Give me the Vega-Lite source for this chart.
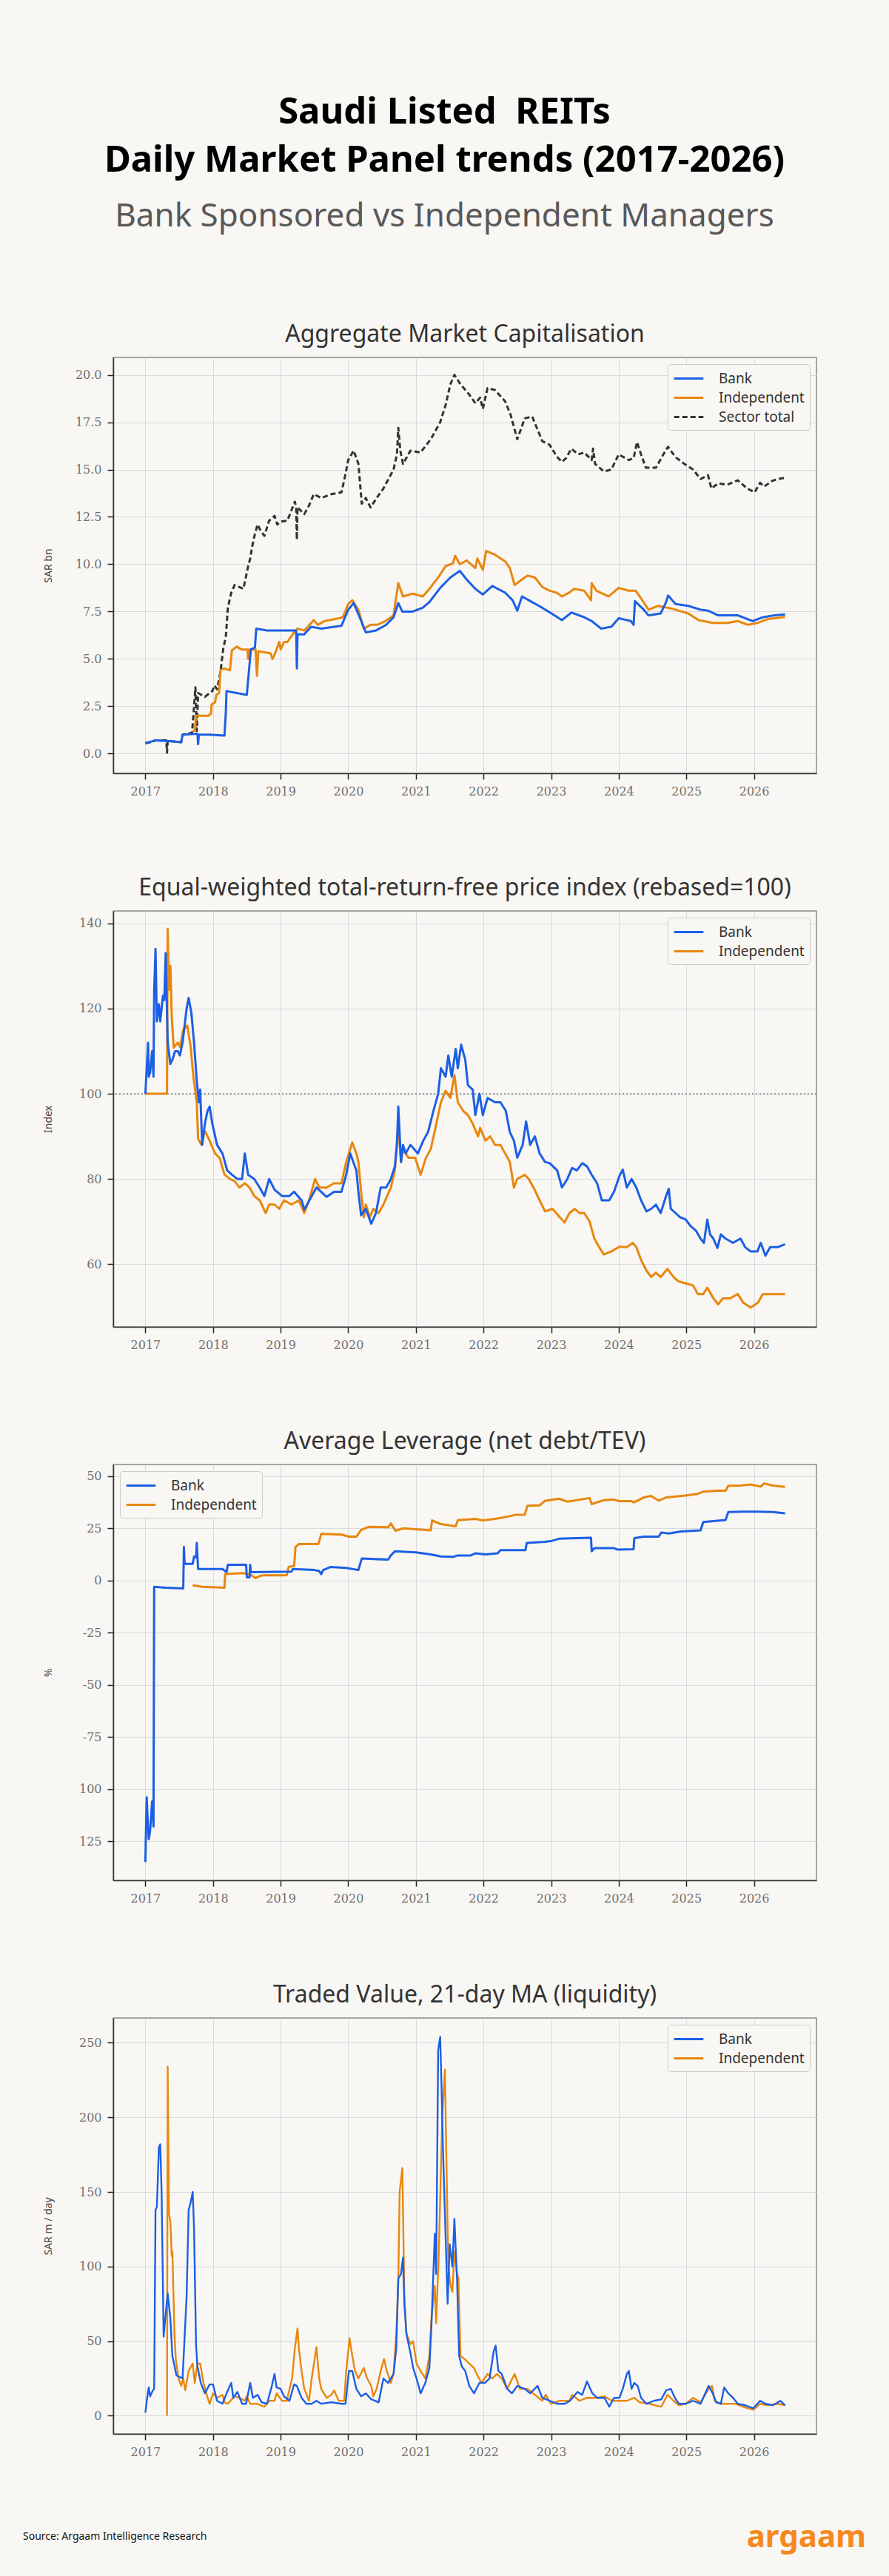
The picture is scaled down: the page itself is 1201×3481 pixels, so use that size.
{
  "$schema": "https://vega.github.io/schema/vega-lite/v6.json",
  "background": "#f9f7f3",
  "padding": {"left": 31, "top": 128, "right": 31, "bottom": 7},
  "spacing": 186,
  "bounds": "flush",
  "title": {
    "text": ["Saudi Listed \u00a0REITs", "Daily Market Panel trends (2017-2026)"],
    "subtitle": "Bank Sponsored vs Independent Managers",
    "font": "Noto Sans",
    "fontSize": 49,
    "fontWeight": "bold",
    "color": "#000000",
    "lineHeight": 65,
    "subtitleFont": "Noto Sans",
    "subtitleFontSize": 44,
    "subtitleColor": "#58585a",
    "subtitlePadding": 29,
    "anchor": "middle",
    "frame": "bounds",
    "offset": 120
  },
  "datasets": {
    "mcap": [
      {"t":2017.00,"s":"Sector total","v":0.55},{"t":2017.10,"s":"Sector total","v":0.62},{"t":2017.15,"s":"Sector total","v":0.70},{"t":2017.31,"s":"Sector total","v":0.70},{"t":2017.32,"s":"Sector total","v":0.05},{"t":2017.33,"s":"Sector total","v":0.70},{"t":2017.40,"s":"Sector total","v":0.65},{"t":2017.53,"s":"Sector total","v":0.60},{"t":2017.55,"s":"Sector total","v":1.00},{"t":2017.69,"s":"Sector total","v":1.10},{"t":2017.71,"s":"Sector total","v":2.00},{"t":2017.74,"s":"Sector total","v":3.50},{"t":2017.76,"s":"Sector total","v":1.20},{"t":2017.78,"s":"Sector total","v":3.20},{"t":2017.88,"s":"Sector total","v":3.00},{"t":2017.99,"s":"Sector total","v":3.30},{"t":2018.02,"s":"Sector total","v":3.60},{"t":2018.06,"s":"Sector total","v":3.40},{"t":2018.11,"s":"Sector total","v":4.30},{"t":2018.15,"s":"Sector total","v":5.50},{"t":2018.19,"s":"Sector total","v":6.20},{"t":2018.22,"s":"Sector total","v":7.70},{"t":2018.27,"s":"Sector total","v":8.50},{"t":2018.32,"s":"Sector total","v":8.90},{"t":2018.45,"s":"Sector total","v":8.70},{"t":2018.52,"s":"Sector total","v":9.90},{"t":2018.55,"s":"Sector total","v":10.30},{"t":2018.58,"s":"Sector total","v":10.95},{"t":2018.62,"s":"Sector total","v":11.60},{"t":2018.66,"s":"Sector total","v":12.10},{"t":2018.70,"s":"Sector total","v":11.80},{"t":2018.76,"s":"Sector total","v":11.50},{"t":2018.83,"s":"Sector total","v":12.30},{"t":2018.91,"s":"Sector total","v":12.55},{"t":2018.95,"s":"Sector total","v":12.10},{"t":2019.00,"s":"Sector total","v":12.25},{"t":2019.10,"s":"Sector total","v":12.30},{"t":2019.21,"s":"Sector total","v":13.30},{"t":2019.23,"s":"Sector total","v":13.00},{"t":2019.24,"s":"Sector total","v":11.30},{"t":2019.25,"s":"Sector total","v":13.00},{"t":2019.35,"s":"Sector total","v":12.65},{"t":2019.42,"s":"Sector total","v":13.10},{"t":2019.49,"s":"Sector total","v":13.70},{"t":2019.60,"s":"Sector total","v":13.50},{"t":2019.75,"s":"Sector total","v":13.70},{"t":2019.90,"s":"Sector total","v":13.80},{"t":2019.95,"s":"Sector total","v":14.60},{"t":2020.00,"s":"Sector total","v":15.50},{"t":2020.08,"s":"Sector total","v":16.00},{"t":2020.15,"s":"Sector total","v":15.30},{"t":2020.20,"s":"Sector total","v":13.20},{"t":2020.26,"s":"Sector total","v":13.50},{"t":2020.33,"s":"Sector total","v":13.00},{"t":2020.42,"s":"Sector total","v":13.50},{"t":2020.52,"s":"Sector total","v":14.00},{"t":2020.67,"s":"Sector total","v":15.00},{"t":2020.72,"s":"Sector total","v":15.80},{"t":2020.74,"s":"Sector total","v":17.20},{"t":2020.77,"s":"Sector total","v":16.00},{"t":2020.81,"s":"Sector total","v":15.30},{"t":2020.92,"s":"Sector total","v":16.00},{"t":2021.07,"s":"Sector total","v":15.90},{"t":2021.22,"s":"Sector total","v":16.60},{"t":2021.36,"s":"Sector total","v":17.50},{"t":2021.44,"s":"Sector total","v":18.40},{"t":2021.51,"s":"Sector total","v":19.50},{"t":2021.57,"s":"Sector total","v":20.00},{"t":2021.66,"s":"Sector total","v":19.50},{"t":2021.77,"s":"Sector total","v":19.05},{"t":2021.88,"s":"Sector total","v":18.50},{"t":2021.95,"s":"Sector total","v":18.80},{"t":2021.99,"s":"Sector total","v":18.20},{"t":2022.06,"s":"Sector total","v":19.30},{"t":2022.17,"s":"Sector total","v":19.20},{"t":2022.32,"s":"Sector total","v":18.60},{"t":2022.40,"s":"Sector total","v":17.90},{"t":2022.50,"s":"Sector total","v":16.60},{"t":2022.61,"s":"Sector total","v":17.70},{"t":2022.72,"s":"Sector total","v":17.80},{"t":2022.87,"s":"Sector total","v":16.50},{"t":2022.98,"s":"Sector total","v":16.30},{"t":2023.08,"s":"Sector total","v":15.70},{"t":2023.16,"s":"Sector total","v":15.40},{"t":2023.22,"s":"Sector total","v":15.60},{"t":2023.30,"s":"Sector total","v":16.10},{"t":2023.40,"s":"Sector total","v":15.80},{"t":2023.49,"s":"Sector total","v":15.90},{"t":2023.60,"s":"Sector total","v":15.50},{"t":2023.62,"s":"Sector total","v":16.10},{"t":2023.65,"s":"Sector total","v":15.30},{"t":2023.78,"s":"Sector total","v":14.90},{"t":2023.89,"s":"Sector total","v":15.00},{"t":2024.00,"s":"Sector total","v":15.80},{"t":2024.15,"s":"Sector total","v":15.50},{"t":2024.22,"s":"Sector total","v":15.60},{"t":2024.27,"s":"Sector total","v":16.45},{"t":2024.33,"s":"Sector total","v":15.80},{"t":2024.40,"s":"Sector total","v":15.10},{"t":2024.55,"s":"Sector total","v":15.10},{"t":2024.70,"s":"Sector total","v":16.05},{"t":2024.73,"s":"Sector total","v":16.20},{"t":2024.84,"s":"Sector total","v":15.65},{"t":2024.99,"s":"Sector total","v":15.25},{"t":2025.10,"s":"Sector total","v":15.00},{"t":2025.21,"s":"Sector total","v":14.50},{"t":2025.32,"s":"Sector total","v":14.70},{"t":2025.37,"s":"Sector total","v":14.00},{"t":2025.47,"s":"Sector total","v":14.27},{"t":2025.61,"s":"Sector total","v":14.20},{"t":2025.76,"s":"Sector total","v":14.43},{"t":2025.90,"s":"Sector total","v":14.00},{"t":2026.01,"s":"Sector total","v":13.80},{"t":2026.09,"s":"Sector total","v":14.30},{"t":2026.15,"s":"Sector total","v":14.10},{"t":2026.27,"s":"Sector total","v":14.40},{"t":2026.35,"s":"Sector total","v":14.50},{"t":2026.46,"s":"Sector total","v":14.56},
      {"t":2017.70,"s":"Independent","v":1.20},{"t":2017.73,"s":"Independent","v":1.20},{"t":2017.75,"s":"Independent","v":2.00},{"t":2017.93,"s":"Independent","v":2.00},{"t":2017.97,"s":"Independent","v":2.10},{"t":2017.98,"s":"Independent","v":2.60},{"t":2018.03,"s":"Independent","v":2.70},{"t":2018.05,"s":"Independent","v":3.10},{"t":2018.09,"s":"Independent","v":3.20},{"t":2018.11,"s":"Independent","v":4.40},{"t":2018.16,"s":"Independent","v":4.50},{"t":2018.25,"s":"Independent","v":4.40},{"t":2018.28,"s":"Independent","v":5.45},{"t":2018.35,"s":"Independent","v":5.65},{"t":2018.42,"s":"Independent","v":5.50},{"t":2018.51,"s":"Independent","v":5.50},{"t":2018.52,"s":"Independent","v":5.00},{"t":2018.53,"s":"Independent","v":5.50},{"t":2018.63,"s":"Independent","v":5.50},{"t":2018.65,"s":"Independent","v":4.10},{"t":2018.67,"s":"Independent","v":5.40},{"t":2018.85,"s":"Independent","v":5.30},{"t":2018.88,"s":"Independent","v":5.00},{"t":2018.92,"s":"Independent","v":5.30},{"t":2018.98,"s":"Independent","v":5.90},{"t":2019.00,"s":"Independent","v":5.50},{"t":2019.05,"s":"Independent","v":5.90},{"t":2019.10,"s":"Independent","v":5.90},{"t":2019.20,"s":"Independent","v":6.40},{"t":2019.25,"s":"Independent","v":6.60},{"t":2019.35,"s":"Independent","v":6.50},{"t":2019.49,"s":"Independent","v":7.05},{"t":2019.55,"s":"Independent","v":6.80},{"t":2019.65,"s":"Independent","v":7.00},{"t":2019.80,"s":"Independent","v":7.10},{"t":2019.92,"s":"Independent","v":7.20},{"t":2020.00,"s":"Independent","v":7.90},{"t":2020.06,"s":"Independent","v":8.10},{"t":2020.15,"s":"Independent","v":7.60},{"t":2020.23,"s":"Independent","v":6.60},{"t":2020.33,"s":"Independent","v":6.80},{"t":2020.43,"s":"Independent","v":6.80},{"t":2020.55,"s":"Independent","v":7.00},{"t":2020.67,"s":"Independent","v":7.30},{"t":2020.74,"s":"Independent","v":9.00},{"t":2020.81,"s":"Independent","v":8.30},{"t":2020.95,"s":"Independent","v":8.45},{"t":2021.10,"s":"Independent","v":8.30},{"t":2021.20,"s":"Independent","v":8.70},{"t":2021.33,"s":"Independent","v":9.30},{"t":2021.44,"s":"Independent","v":9.90},{"t":2021.55,"s":"Independent","v":10.05},{"t":2021.58,"s":"Independent","v":10.45},{"t":2021.65,"s":"Independent","v":10.00},{"t":2021.75,"s":"Independent","v":10.20},{"t":2021.88,"s":"Independent","v":9.80},{"t":2021.91,"s":"Independent","v":10.30},{"t":2021.99,"s":"Independent","v":9.70},{"t":2022.04,"s":"Independent","v":10.70},{"t":2022.17,"s":"Independent","v":10.50},{"t":2022.32,"s":"Independent","v":10.15},{"t":2022.39,"s":"Independent","v":9.80},{"t":2022.46,"s":"Independent","v":8.90},{"t":2022.57,"s":"Independent","v":9.20},{"t":2022.65,"s":"Independent","v":9.40},{"t":2022.76,"s":"Independent","v":9.30},{"t":2022.87,"s":"Independent","v":8.80},{"t":2022.98,"s":"Independent","v":8.60},{"t":2023.08,"s":"Independent","v":8.50},{"t":2023.16,"s":"Independent","v":8.30},{"t":2023.27,"s":"Independent","v":8.50},{"t":2023.34,"s":"Independent","v":8.70},{"t":2023.49,"s":"Independent","v":8.60},{"t":2023.59,"s":"Independent","v":8.10},{"t":2023.60,"s":"Independent","v":9.00},{"t":2023.67,"s":"Independent","v":8.60},{"t":2023.85,"s":"Independent","v":8.30},{"t":2024.00,"s":"Independent","v":8.75},{"t":2024.15,"s":"Independent","v":8.60},{"t":2024.25,"s":"Independent","v":8.60},{"t":2024.33,"s":"Independent","v":8.20},{"t":2024.44,"s":"Independent","v":7.60},{"t":2024.58,"s":"Independent","v":7.80},{"t":2024.73,"s":"Independent","v":7.70},{"t":2024.84,"s":"Independent","v":7.60},{"t":2025.03,"s":"Independent","v":7.40},{"t":2025.18,"s":"Independent","v":7.05},{"t":2025.39,"s":"Independent","v":6.90},{"t":2025.61,"s":"Independent","v":6.90},{"t":2025.76,"s":"Independent","v":7.00},{"t":2025.91,"s":"Independent","v":6.80},{"t":2026.05,"s":"Independent","v":6.90},{"t":2026.20,"s":"Independent","v":7.10},{"t":2026.46,"s":"Independent","v":7.22},
      {"t":2017.00,"s":"Bank","v":0.55},{"t":2017.15,"s":"Bank","v":0.70},{"t":2017.40,"s":"Bank","v":0.65},{"t":2017.53,"s":"Bank","v":0.60},{"t":2017.55,"s":"Bank","v":1.00},{"t":2017.77,"s":"Bank","v":1.05},{"t":2017.78,"s":"Bank","v":0.50},{"t":2017.79,"s":"Bank","v":1.00},{"t":2017.95,"s":"Bank","v":1.00},{"t":2018.17,"s":"Bank","v":0.95},{"t":2018.19,"s":"Bank","v":2.20},{"t":2018.20,"s":"Bank","v":3.30},{"t":2018.35,"s":"Bank","v":3.20},{"t":2018.50,"s":"Bank","v":3.10},{"t":2018.53,"s":"Bank","v":4.30},{"t":2018.56,"s":"Bank","v":5.50},{"t":2018.62,"s":"Bank","v":5.60},{"t":2018.64,"s":"Bank","v":6.60},{"t":2018.80,"s":"Bank","v":6.50},{"t":2019.00,"s":"Bank","v":6.50},{"t":2019.23,"s":"Bank","v":6.50},{"t":2019.24,"s":"Bank","v":4.50},{"t":2019.25,"s":"Bank","v":6.30},{"t":2019.35,"s":"Bank","v":6.30},{"t":2019.45,"s":"Bank","v":6.70},{"t":2019.60,"s":"Bank","v":6.60},{"t":2019.90,"s":"Bank","v":6.75},{"t":2020.00,"s":"Bank","v":7.60},{"t":2020.08,"s":"Bank","v":7.95},{"t":2020.17,"s":"Bank","v":7.20},{"t":2020.26,"s":"Bank","v":6.40},{"t":2020.41,"s":"Bank","v":6.50},{"t":2020.56,"s":"Bank","v":6.80},{"t":2020.67,"s":"Bank","v":7.20},{"t":2020.74,"s":"Bank","v":7.95},{"t":2020.80,"s":"Bank","v":7.50},{"t":2020.95,"s":"Bank","v":7.50},{"t":2021.10,"s":"Bank","v":7.70},{"t":2021.20,"s":"Bank","v":8.00},{"t":2021.36,"s":"Bank","v":8.75},{"t":2021.51,"s":"Bank","v":9.30},{"t":2021.65,"s":"Bank","v":9.65},{"t":2021.75,"s":"Bank","v":9.20},{"t":2021.88,"s":"Bank","v":8.70},{"t":2021.99,"s":"Bank","v":8.40},{"t":2022.13,"s":"Bank","v":8.85},{"t":2022.32,"s":"Bank","v":8.50},{"t":2022.43,"s":"Bank","v":8.10},{"t":2022.50,"s":"Bank","v":7.55},{"t":2022.57,"s":"Bank","v":8.30},{"t":2022.72,"s":"Bank","v":8.00},{"t":2022.87,"s":"Bank","v":7.70},{"t":2023.05,"s":"Bank","v":7.30},{"t":2023.16,"s":"Bank","v":7.05},{"t":2023.30,"s":"Bank","v":7.45},{"t":2023.49,"s":"Bank","v":7.20},{"t":2023.60,"s":"Bank","v":7.00},{"t":2023.74,"s":"Bank","v":6.60},{"t":2023.89,"s":"Bank","v":6.70},{"t":2024.00,"s":"Bank","v":7.15},{"t":2024.18,"s":"Bank","v":7.00},{"t":2024.22,"s":"Bank","v":6.80},{"t":2024.24,"s":"Bank","v":8.05},{"t":2024.37,"s":"Bank","v":7.60},{"t":2024.44,"s":"Bank","v":7.30},{"t":2024.62,"s":"Bank","v":7.40},{"t":2024.70,"s":"Bank","v":8.00},{"t":2024.73,"s":"Bank","v":8.35},{"t":2024.84,"s":"Bank","v":7.90},{"t":2025.03,"s":"Bank","v":7.80},{"t":2025.21,"s":"Bank","v":7.60},{"t":2025.32,"s":"Bank","v":7.55},{"t":2025.47,"s":"Bank","v":7.30},{"t":2025.61,"s":"Bank","v":7.30},{"t":2025.76,"s":"Bank","v":7.30},{"t":2025.98,"s":"Bank","v":7.00},{"t":2026.13,"s":"Bank","v":7.20},{"t":2026.30,"s":"Bank","v":7.30},{"t":2026.46,"s":"Bank","v":7.35}
    ],
    "idx": [
      {"t":2017.00,"s":"Independent","v":100},{"t":2017.32,"s":"Independent","v":100},{"t":2017.33,"s":"Independent","v":138.7},{"t":2017.35,"s":"Independent","v":124.4},{"t":2017.37,"s":"Independent","v":130},{"t":2017.39,"s":"Independent","v":118},{"t":2017.42,"s":"Independent","v":110.8},{"t":2017.48,"s":"Independent","v":112},{"t":2017.51,"s":"Independent","v":111},{"t":2017.56,"s":"Independent","v":115},{"t":2017.62,"s":"Independent","v":116},{"t":2017.67,"s":"Independent","v":111},{"t":2017.71,"s":"Independent","v":104},{"t":2017.76,"s":"Independent","v":98},{"t":2017.78,"s":"Independent","v":89.4},{"t":2017.83,"s":"Independent","v":88},{"t":2017.88,"s":"Independent","v":91.3},{"t":2017.95,"s":"Independent","v":89},{"t":2018.03,"s":"Independent","v":86},{"t":2018.10,"s":"Independent","v":84.9},{"t":2018.17,"s":"Independent","v":81},{"t":2018.25,"s":"Independent","v":80},{"t":2018.32,"s":"Independent","v":79.5},{"t":2018.39,"s":"Independent","v":78},{"t":2018.47,"s":"Independent","v":79},{"t":2018.54,"s":"Independent","v":78},{"t":2018.61,"s":"Independent","v":76},{"t":2018.69,"s":"Independent","v":75},{"t":2018.78,"s":"Independent","v":72},{"t":2018.83,"s":"Independent","v":74},{"t":2018.91,"s":"Independent","v":74},{"t":2018.98,"s":"Independent","v":73},{"t":2019.05,"s":"Independent","v":75},{"t":2019.16,"s":"Independent","v":74},{"t":2019.27,"s":"Independent","v":75},{"t":2019.35,"s":"Independent","v":72},{"t":2019.42,"s":"Independent","v":75},{"t":2019.51,"s":"Independent","v":80},{"t":2019.57,"s":"Independent","v":78},{"t":2019.68,"s":"Independent","v":78},{"t":2019.79,"s":"Independent","v":79},{"t":2019.90,"s":"Independent","v":79},{"t":2019.97,"s":"Independent","v":84},{"t":2020.03,"s":"Independent","v":87},{"t":2020.06,"s":"Independent","v":88.6},{"t":2020.12,"s":"Independent","v":86},{"t":2020.15,"s":"Independent","v":84},{"t":2020.19,"s":"Independent","v":77},{"t":2020.23,"s":"Independent","v":71},{"t":2020.26,"s":"Independent","v":74},{"t":2020.32,"s":"Independent","v":71},{"t":2020.37,"s":"Independent","v":73},{"t":2020.45,"s":"Independent","v":72},{"t":2020.52,"s":"Independent","v":74},{"t":2020.63,"s":"Independent","v":78},{"t":2020.69,"s":"Independent","v":82},{"t":2020.74,"s":"Independent","v":93},{"t":2020.78,"s":"Independent","v":84},{"t":2020.81,"s":"Independent","v":87},{"t":2020.89,"s":"Independent","v":85},{"t":2020.99,"s":"Independent","v":85},{"t":2021.07,"s":"Independent","v":81},{"t":2021.15,"s":"Independent","v":85},{"t":2021.22,"s":"Independent","v":87},{"t":2021.29,"s":"Independent","v":92},{"t":2021.37,"s":"Independent","v":98},{"t":2021.44,"s":"Independent","v":100.7},{"t":2021.51,"s":"Independent","v":99},{"t":2021.57,"s":"Independent","v":104.4},{"t":2021.62,"s":"Independent","v":98},{"t":2021.70,"s":"Independent","v":96},{"t":2021.77,"s":"Independent","v":95},{"t":2021.84,"s":"Independent","v":93},{"t":2021.92,"s":"Independent","v":90},{"t":2021.95,"s":"Independent","v":92},{"t":2022.03,"s":"Independent","v":89},{"t":2022.10,"s":"Independent","v":90},{"t":2022.17,"s":"Independent","v":88},{"t":2022.25,"s":"Independent","v":88},{"t":2022.32,"s":"Independent","v":86},{"t":2022.39,"s":"Independent","v":84},{"t":2022.45,"s":"Independent","v":78},{"t":2022.50,"s":"Independent","v":80},{"t":2022.61,"s":"Independent","v":81},{"t":2022.67,"s":"Independent","v":80},{"t":2022.74,"s":"Independent","v":78},{"t":2022.83,"s":"Independent","v":75},{"t":2022.91,"s":"Independent","v":72.4},{"t":2023.02,"s":"Independent","v":73},{"t":2023.13,"s":"Independent","v":71},{"t":2023.20,"s":"Independent","v":69.8},{"t":2023.27,"s":"Independent","v":72},{"t":2023.35,"s":"Independent","v":73},{"t":2023.42,"s":"Independent","v":72},{"t":2023.49,"s":"Independent","v":72},{"t":2023.57,"s":"Independent","v":70},{"t":2023.64,"s":"Independent","v":66},{"t":2023.71,"s":"Independent","v":64},{"t":2023.78,"s":"Independent","v":62.3},{"t":2023.89,"s":"Independent","v":63},{"t":2024.01,"s":"Independent","v":64.1},{"t":2024.12,"s":"Independent","v":64},{"t":2024.21,"s":"Independent","v":65},{"t":2024.26,"s":"Independent","v":64},{"t":2024.33,"s":"Independent","v":61},{"t":2024.41,"s":"Independent","v":58.5},{"t":2024.48,"s":"Independent","v":57},{"t":2024.55,"s":"Independent","v":58},{"t":2024.62,"s":"Independent","v":57},{"t":2024.72,"s":"Independent","v":58.9},{"t":2024.81,"s":"Independent","v":57},{"t":2024.88,"s":"Independent","v":56},{"t":2024.99,"s":"Independent","v":55.5},{"t":2025.10,"s":"Independent","v":55},{"t":2025.17,"s":"Independent","v":53},{"t":2025.25,"s":"Independent","v":53},{"t":2025.31,"s":"Independent","v":54.5},{"t":2025.40,"s":"Independent","v":52},{"t":2025.47,"s":"Independent","v":50.6},{"t":2025.54,"s":"Independent","v":52},{"t":2025.65,"s":"Independent","v":52},{"t":2025.76,"s":"Independent","v":53},{"t":2025.84,"s":"Independent","v":51},{"t":2025.95,"s":"Independent","v":49.8},{"t":2026.06,"s":"Independent","v":51},{"t":2026.13,"s":"Independent","v":53},{"t":2026.28,"s":"Independent","v":53},{"t":2026.46,"s":"Independent","v":53},
      {"t":2017.00,"s":"Bank","v":100},{"t":2017.02,"s":"Bank","v":106},{"t":2017.04,"s":"Bank","v":112},{"t":2017.05,"s":"Bank","v":104},{"t":2017.07,"s":"Bank","v":105},{"t":2017.10,"s":"Bank","v":110},{"t":2017.12,"s":"Bank","v":104},{"t":2017.13,"s":"Bank","v":124},{"t":2017.15,"s":"Bank","v":134},{"t":2017.17,"s":"Bank","v":117},{"t":2017.20,"s":"Bank","v":121},{"t":2017.22,"s":"Bank","v":117},{"t":2017.26,"s":"Bank","v":123},{"t":2017.28,"s":"Bank","v":122},{"t":2017.30,"s":"Bank","v":133},{"t":2017.33,"s":"Bank","v":112},{"t":2017.37,"s":"Bank","v":107},{"t":2017.40,"s":"Bank","v":108},{"t":2017.44,"s":"Bank","v":110},{"t":2017.48,"s":"Bank","v":110},{"t":2017.51,"s":"Bank","v":109},{"t":2017.55,"s":"Bank","v":112},{"t":2017.61,"s":"Bank","v":120},{"t":2017.64,"s":"Bank","v":122.5},{"t":2017.68,"s":"Bank","v":119},{"t":2017.72,"s":"Bank","v":112},{"t":2017.76,"s":"Bank","v":103},{"t":2017.79,"s":"Bank","v":98},{"t":2017.81,"s":"Bank","v":101},{"t":2017.84,"s":"Bank","v":88},{"t":2017.88,"s":"Bank","v":93},{"t":2017.92,"s":"Bank","v":96},{"t":2017.95,"s":"Bank","v":97},{"t":2017.99,"s":"Bank","v":93},{"t":2018.06,"s":"Bank","v":88},{"t":2018.14,"s":"Bank","v":86},{"t":2018.21,"s":"Bank","v":82},{"t":2018.28,"s":"Bank","v":81},{"t":2018.36,"s":"Bank","v":80},{"t":2018.43,"s":"Bank","v":80},{"t":2018.47,"s":"Bank","v":86},{"t":2018.52,"s":"Bank","v":81},{"t":2018.61,"s":"Bank","v":80},{"t":2018.69,"s":"Bank","v":78},{"t":2018.76,"s":"Bank","v":76},{"t":2018.83,"s":"Bank","v":80},{"t":2018.91,"s":"Bank","v":77.5},{"t":2019.02,"s":"Bank","v":76},{"t":2019.13,"s":"Bank","v":76},{"t":2019.20,"s":"Bank","v":77},{"t":2019.31,"s":"Bank","v":75},{"t":2019.35,"s":"Bank","v":72.8},{"t":2019.46,"s":"Bank","v":76},{"t":2019.53,"s":"Bank","v":78},{"t":2019.68,"s":"Bank","v":75.8},{"t":2019.79,"s":"Bank","v":77},{"t":2019.90,"s":"Bank","v":77},{"t":2019.97,"s":"Bank","v":81},{"t":2020.03,"s":"Bank","v":86},{"t":2020.12,"s":"Bank","v":82},{"t":2020.15,"s":"Bank","v":77},{"t":2020.19,"s":"Bank","v":71.5},{"t":2020.26,"s":"Bank","v":73},{"t":2020.34,"s":"Bank","v":69.5},{"t":2020.41,"s":"Bank","v":72},{"t":2020.48,"s":"Bank","v":78},{"t":2020.56,"s":"Bank","v":78},{"t":2020.63,"s":"Bank","v":80},{"t":2020.69,"s":"Bank","v":83},{"t":2020.72,"s":"Bank","v":88},{"t":2020.74,"s":"Bank","v":97},{"t":2020.78,"s":"Bank","v":84},{"t":2020.81,"s":"Bank","v":88},{"t":2020.85,"s":"Bank","v":86},{"t":2020.92,"s":"Bank","v":88},{"t":2021.03,"s":"Bank","v":86},{"t":2021.11,"s":"Bank","v":89},{"t":2021.18,"s":"Bank","v":91},{"t":2021.26,"s":"Bank","v":96},{"t":2021.33,"s":"Bank","v":100},{"t":2021.37,"s":"Bank","v":106},{"t":2021.44,"s":"Bank","v":104},{"t":2021.48,"s":"Bank","v":109},{"t":2021.53,"s":"Bank","v":104},{"t":2021.59,"s":"Bank","v":110.5},{"t":2021.62,"s":"Bank","v":106},{"t":2021.67,"s":"Bank","v":111.5},{"t":2021.73,"s":"Bank","v":108},{"t":2021.77,"s":"Bank","v":102},{"t":2021.84,"s":"Bank","v":101},{"t":2021.88,"s":"Bank","v":95},{"t":2021.94,"s":"Bank","v":100},{"t":2021.99,"s":"Bank","v":95},{"t":2022.06,"s":"Bank","v":99},{"t":2022.17,"s":"Bank","v":98},{"t":2022.25,"s":"Bank","v":98},{"t":2022.33,"s":"Bank","v":96},{"t":2022.39,"s":"Bank","v":91},{"t":2022.45,"s":"Bank","v":89},{"t":2022.50,"s":"Bank","v":85},{"t":2022.58,"s":"Bank","v":88},{"t":2022.63,"s":"Bank","v":93.5},{"t":2022.69,"s":"Bank","v":88},{"t":2022.76,"s":"Bank","v":90},{"t":2022.83,"s":"Bank","v":86},{"t":2022.91,"s":"Bank","v":84},{"t":2022.98,"s":"Bank","v":83.7},{"t":2023.09,"s":"Bank","v":82},{"t":2023.16,"s":"Bank","v":78},{"t":2023.24,"s":"Bank","v":80},{"t":2023.31,"s":"Bank","v":82.6},{"t":2023.38,"s":"Bank","v":82},{"t":2023.46,"s":"Bank","v":83.7},{"t":2023.53,"s":"Bank","v":83},{"t":2023.60,"s":"Bank","v":81},{"t":2023.68,"s":"Bank","v":79},{"t":2023.75,"s":"Bank","v":75},{"t":2023.86,"s":"Bank","v":75},{"t":2023.93,"s":"Bank","v":77},{"t":2024.01,"s":"Bank","v":80.7},{"t":2024.06,"s":"Bank","v":82.2},{"t":2024.12,"s":"Bank","v":78},{"t":2024.19,"s":"Bank","v":80},{"t":2024.26,"s":"Bank","v":78},{"t":2024.33,"s":"Bank","v":75},{"t":2024.41,"s":"Bank","v":72.4},{"t":2024.48,"s":"Bank","v":73},{"t":2024.55,"s":"Bank","v":74},{"t":2024.62,"s":"Bank","v":72},{"t":2024.70,"s":"Bank","v":76},{"t":2024.74,"s":"Bank","v":77.7},{"t":2024.77,"s":"Bank","v":73},{"t":2024.84,"s":"Bank","v":72},{"t":2024.91,"s":"Bank","v":71},{"t":2024.99,"s":"Bank","v":70.5},{"t":2025.06,"s":"Bank","v":69},{"t":2025.14,"s":"Bank","v":67.9},{"t":2025.21,"s":"Bank","v":66},{"t":2025.26,"s":"Bank","v":65},{"t":2025.31,"s":"Bank","v":70.5},{"t":2025.35,"s":"Bank","v":67},{"t":2025.40,"s":"Bank","v":66},{"t":2025.46,"s":"Bank","v":63.8},{"t":2025.51,"s":"Bank","v":67},{"t":2025.58,"s":"Bank","v":66},{"t":2025.69,"s":"Bank","v":65},{"t":2025.80,"s":"Bank","v":66},{"t":2025.87,"s":"Bank","v":64},{"t":2025.95,"s":"Bank","v":63},{"t":2026.05,"s":"Bank","v":63},{"t":2026.10,"s":"Bank","v":65},{"t":2026.17,"s":"Bank","v":62},{"t":2026.24,"s":"Bank","v":64},{"t":2026.35,"s":"Bank","v":64},{"t":2026.46,"s":"Bank","v":64.7}
    ],
    "lev": [
      {"t":2017.70,"s":"Independent","v":-2.3},{"t":2017.84,"s":"Independent","v":-3},{"t":2018.17,"s":"Independent","v":-3.5},{"t":2018.18,"s":"Independent","v":3.1},{"t":2018.46,"s":"Independent","v":3.5},{"t":2018.57,"s":"Independent","v":2.5},{"t":2018.63,"s":"Independent","v":1.1},{"t":2018.68,"s":"Independent","v":2},{"t":2018.75,"s":"Independent","v":2.5},{"t":2019.09,"s":"Independent","v":2.5},{"t":2019.12,"s":"Independent","v":6.5},{"t":2019.20,"s":"Independent","v":7},{"t":2019.22,"s":"Independent","v":16},{"t":2019.27,"s":"Independent","v":17.5},{"t":2019.56,"s":"Independent","v":17.5},{"t":2019.60,"s":"Independent","v":22.3},{"t":2019.90,"s":"Independent","v":22},{"t":2020.01,"s":"Independent","v":21},{"t":2020.12,"s":"Independent","v":21},{"t":2020.19,"s":"Independent","v":24.2},{"t":2020.30,"s":"Independent","v":25.7},{"t":2020.59,"s":"Independent","v":25.5},{"t":2020.63,"s":"Independent","v":27.4},{"t":2020.70,"s":"Independent","v":23.8},{"t":2020.81,"s":"Independent","v":25},{"t":2021.22,"s":"Independent","v":24},{"t":2021.24,"s":"Independent","v":28.8},{"t":2021.37,"s":"Independent","v":27},{"t":2021.59,"s":"Independent","v":26},{"t":2021.62,"s":"Independent","v":28.9},{"t":2021.88,"s":"Independent","v":29.5},{"t":2021.99,"s":"Independent","v":28.8},{"t":2022.17,"s":"Independent","v":29.5},{"t":2022.39,"s":"Independent","v":30.8},{"t":2022.47,"s":"Independent","v":31.5},{"t":2022.61,"s":"Independent","v":31.5},{"t":2022.65,"s":"Independent","v":35.8},{"t":2022.83,"s":"Independent","v":36},{"t":2022.91,"s":"Independent","v":38.2},{"t":2023.12,"s":"Independent","v":39.2},{"t":2023.24,"s":"Independent","v":37.8},{"t":2023.57,"s":"Independent","v":39.5},{"t":2023.60,"s":"Independent","v":36.6},{"t":2023.78,"s":"Independent","v":38.5},{"t":2023.93,"s":"Independent","v":38.8},{"t":2024.01,"s":"Independent","v":38},{"t":2024.19,"s":"Independent","v":38},{"t":2024.22,"s":"Independent","v":37.4},{"t":2024.37,"s":"Independent","v":39.8},{"t":2024.48,"s":"Independent","v":40.5},{"t":2024.59,"s":"Independent","v":38.3},{"t":2024.70,"s":"Independent","v":39.8},{"t":2024.96,"s":"Independent","v":40.6},{"t":2025.17,"s":"Independent","v":41.5},{"t":2025.25,"s":"Independent","v":42.6},{"t":2025.47,"s":"Independent","v":43.1},{"t":2025.58,"s":"Independent","v":43},{"t":2025.62,"s":"Independent","v":45.4},{"t":2025.80,"s":"Independent","v":45.5},{"t":2025.95,"s":"Independent","v":46},{"t":2026.10,"s":"Independent","v":45},{"t":2026.15,"s":"Independent","v":46.5},{"t":2026.28,"s":"Independent","v":45.5},{"t":2026.46,"s":"Independent","v":44.9},
      {"t":2017.00,"s":"Bank","v":-135},{"t":2017.01,"s":"Bank","v":-118},{"t":2017.02,"s":"Bank","v":-104},{"t":2017.035,"s":"Bank","v":-116},{"t":2017.05,"s":"Bank","v":-124},{"t":2017.07,"s":"Bank","v":-120},{"t":2017.10,"s":"Bank","v":-106},{"t":2017.12,"s":"Bank","v":-118},{"t":2017.13,"s":"Bank","v":-3},{"t":2017.30,"s":"Bank","v":-3.5},{"t":2017.56,"s":"Bank","v":-3.8},{"t":2017.57,"s":"Bank","v":16},{"t":2017.58,"s":"Bank","v":8},{"t":2017.70,"s":"Bank","v":8},{"t":2017.72,"s":"Bank","v":11.5},{"t":2017.75,"s":"Bank","v":11},{"t":2017.76,"s":"Bank","v":18},{"t":2017.78,"s":"Bank","v":5.5},{"t":2018.14,"s":"Bank","v":5.5},{"t":2018.20,"s":"Bank","v":4},{"t":2018.22,"s":"Bank","v":7.5},{"t":2018.49,"s":"Bank","v":7.5},{"t":2018.50,"s":"Bank","v":1.5},{"t":2018.54,"s":"Bank","v":1.5},{"t":2018.55,"s":"Bank","v":7.5},{"t":2018.56,"s":"Bank","v":4},{"t":2019.16,"s":"Bank","v":4.2},{"t":2019.18,"s":"Bank","v":5.5},{"t":2019.50,"s":"Bank","v":5},{"t":2019.57,"s":"Bank","v":4.5},{"t":2019.60,"s":"Bank","v":3},{"t":2019.63,"s":"Bank","v":5},{"t":2019.74,"s":"Bank","v":6.5},{"t":2019.97,"s":"Bank","v":6},{"t":2020.15,"s":"Bank","v":5},{"t":2020.20,"s":"Bank","v":10.5},{"t":2020.59,"s":"Bank","v":10},{"t":2020.63,"s":"Bank","v":12},{"t":2020.69,"s":"Bank","v":14},{"t":2021.00,"s":"Bank","v":13.5},{"t":2021.22,"s":"Bank","v":12.5},{"t":2021.37,"s":"Bank","v":11.5},{"t":2021.55,"s":"Bank","v":11.3},{"t":2021.62,"s":"Bank","v":12},{"t":2021.81,"s":"Bank","v":12},{"t":2021.88,"s":"Bank","v":13},{"t":2022.03,"s":"Bank","v":12.5},{"t":2022.21,"s":"Bank","v":13},{"t":2022.25,"s":"Bank","v":14.5},{"t":2022.62,"s":"Bank","v":14.5},{"t":2022.64,"s":"Bank","v":18},{"t":2022.91,"s":"Bank","v":18.5},{"t":2023.01,"s":"Bank","v":19},{"t":2023.12,"s":"Bank","v":20},{"t":2023.59,"s":"Bank","v":20.5},{"t":2023.60,"s":"Bank","v":14},{"t":2023.64,"s":"Bank","v":15.5},{"t":2023.93,"s":"Bank","v":15.5},{"t":2023.98,"s":"Bank","v":14.8},{"t":2024.22,"s":"Bank","v":15},{"t":2024.23,"s":"Bank","v":20.3},{"t":2024.37,"s":"Bank","v":21},{"t":2024.59,"s":"Bank","v":21},{"t":2024.63,"s":"Bank","v":23},{"t":2024.74,"s":"Bank","v":22.5},{"t":2024.92,"s":"Bank","v":23.5},{"t":2025.21,"s":"Bank","v":24},{"t":2025.25,"s":"Bank","v":28},{"t":2025.58,"s":"Bank","v":29},{"t":2025.62,"s":"Bank","v":32.8},{"t":2025.84,"s":"Bank","v":33},{"t":2026.06,"s":"Bank","v":33},{"t":2026.28,"s":"Bank","v":32.8},{"t":2026.46,"s":"Bank","v":32.2}
    ],
    "tv": [
      {"t":2017.32,"s":"Independent","v":0},{"t":2017.33,"s":"Independent","v":234},{"t":2017.35,"s":"Independent","v":135},{"t":2017.37,"s":"Independent","v":130},{"t":2017.39,"s":"Independent","v":107},{"t":2017.40,"s":"Independent","v":110},{"t":2017.43,"s":"Independent","v":55},{"t":2017.45,"s":"Independent","v":38},{"t":2017.49,"s":"Independent","v":25},{"t":2017.53,"s":"Independent","v":20},{"t":2017.56,"s":"Independent","v":25},{"t":2017.59,"s":"Independent","v":17},{"t":2017.64,"s":"Independent","v":30},{"t":2017.70,"s":"Independent","v":35},{"t":2017.73,"s":"Independent","v":22},{"t":2017.77,"s":"Independent","v":35},{"t":2017.81,"s":"Independent","v":35},{"t":2017.86,"s":"Independent","v":22},{"t":2017.92,"s":"Independent","v":12},{"t":2017.95,"s":"Independent","v":8},{"t":2018.00,"s":"Independent","v":15},{"t":2018.06,"s":"Independent","v":12},{"t":2018.14,"s":"Independent","v":14},{"t":2018.17,"s":"Independent","v":9},{"t":2018.22,"s":"Independent","v":8},{"t":2018.32,"s":"Independent","v":13},{"t":2018.39,"s":"Independent","v":12},{"t":2018.47,"s":"Independent","v":10},{"t":2018.50,"s":"Independent","v":13},{"t":2018.55,"s":"Independent","v":8},{"t":2018.65,"s":"Independent","v":8},{"t":2018.76,"s":"Independent","v":6},{"t":2018.83,"s":"Independent","v":10},{"t":2018.91,"s":"Independent","v":10},{"t":2018.94,"s":"Independent","v":15},{"t":2019.02,"s":"Independent","v":10},{"t":2019.09,"s":"Independent","v":10},{"t":2019.17,"s":"Independent","v":25},{"t":2019.21,"s":"Independent","v":45},{"t":2019.25,"s":"Independent","v":58.5},{"t":2019.27,"s":"Independent","v":45},{"t":2019.31,"s":"Independent","v":30},{"t":2019.35,"s":"Independent","v":18},{"t":2019.42,"s":"Independent","v":10},{"t":2019.46,"s":"Independent","v":25},{"t":2019.51,"s":"Independent","v":40},{"t":2019.53,"s":"Independent","v":46},{"t":2019.57,"s":"Independent","v":25},{"t":2019.60,"s":"Independent","v":18},{"t":2019.68,"s":"Independent","v":12},{"t":2019.75,"s":"Independent","v":14},{"t":2019.79,"s":"Independent","v":17},{"t":2019.86,"s":"Independent","v":10},{"t":2019.94,"s":"Independent","v":10},{"t":2019.97,"s":"Independent","v":30},{"t":2020.02,"s":"Independent","v":52},{"t":2020.06,"s":"Independent","v":40},{"t":2020.10,"s":"Independent","v":30},{"t":2020.15,"s":"Independent","v":25},{"t":2020.23,"s":"Independent","v":32},{"t":2020.28,"s":"Independent","v":25},{"t":2020.34,"s":"Independent","v":20},{"t":2020.37,"s":"Independent","v":13},{"t":2020.42,"s":"Independent","v":18},{"t":2020.48,"s":"Independent","v":30},{"t":2020.53,"s":"Independent","v":38},{"t":2020.57,"s":"Independent","v":30},{"t":2020.63,"s":"Independent","v":22},{"t":2020.67,"s":"Independent","v":28},{"t":2020.71,"s":"Independent","v":55},{"t":2020.74,"s":"Independent","v":90},{"t":2020.76,"s":"Independent","v":150},{"t":2020.80,"s":"Independent","v":166},{"t":2020.83,"s":"Independent","v":80},{"t":2020.86,"s":"Independent","v":55},{"t":2020.92,"s":"Independent","v":48},{"t":2020.96,"s":"Independent","v":50},{"t":2021.01,"s":"Independent","v":35},{"t":2021.07,"s":"Independent","v":30},{"t":2021.14,"s":"Independent","v":25},{"t":2021.20,"s":"Independent","v":40},{"t":2021.23,"s":"Independent","v":65},{"t":2021.28,"s":"Independent","v":87},{"t":2021.30,"s":"Independent","v":62},{"t":2021.34,"s":"Independent","v":110},{"t":2021.39,"s":"Independent","v":200},{"t":2021.43,"s":"Independent","v":232},{"t":2021.45,"s":"Independent","v":175},{"t":2021.48,"s":"Independent","v":100},{"t":2021.51,"s":"Independent","v":88},{"t":2021.54,"s":"Independent","v":83},{"t":2021.57,"s":"Independent","v":110},{"t":2021.61,"s":"Independent","v":95},{"t":2021.63,"s":"Independent","v":92},{"t":2021.66,"s":"Independent","v":40},{"t":2021.72,"s":"Independent","v":38},{"t":2021.79,"s":"Independent","v":35},{"t":2021.86,"s":"Independent","v":32},{"t":2021.90,"s":"Independent","v":28},{"t":2021.97,"s":"Independent","v":22},{"t":2022.06,"s":"Independent","v":28},{"t":2022.13,"s":"Independent","v":25},{"t":2022.20,"s":"Independent","v":28},{"t":2022.27,"s":"Independent","v":25},{"t":2022.35,"s":"Independent","v":18},{"t":2022.46,"s":"Independent","v":28},{"t":2022.54,"s":"Independent","v":18},{"t":2022.65,"s":"Independent","v":18},{"t":2022.76,"s":"Independent","v":14},{"t":2022.87,"s":"Independent","v":10},{"t":2022.92,"s":"Independent","v":14},{"t":2023.00,"s":"Independent","v":8},{"t":2023.13,"s":"Independent","v":10},{"t":2023.27,"s":"Independent","v":10},{"t":2023.31,"s":"Independent","v":14},{"t":2023.42,"s":"Independent","v":10},{"t":2023.53,"s":"Independent","v":12},{"t":2023.68,"s":"Independent","v":12},{"t":2023.79,"s":"Independent","v":13},{"t":2023.90,"s":"Independent","v":10},{"t":2024.01,"s":"Independent","v":10},{"t":2024.12,"s":"Independent","v":10},{"t":2024.23,"s":"Independent","v":12},{"t":2024.31,"s":"Independent","v":9},{"t":2024.45,"s":"Independent","v":8},{"t":2024.63,"s":"Independent","v":6},{"t":2024.72,"s":"Independent","v":14},{"t":2024.81,"s":"Independent","v":10},{"t":2024.89,"s":"Independent","v":7},{"t":2024.99,"s":"Independent","v":8},{"t":2025.10,"s":"Independent","v":12},{"t":2025.21,"s":"Independent","v":9},{"t":2025.33,"s":"Independent","v":18},{"t":2025.38,"s":"Independent","v":20},{"t":2025.42,"s":"Independent","v":10},{"t":2025.51,"s":"Independent","v":8},{"t":2025.62,"s":"Independent","v":8},{"t":2025.73,"s":"Independent","v":8},{"t":2025.84,"s":"Independent","v":6},{"t":2025.99,"s":"Independent","v":4},{"t":2026.09,"s":"Independent","v":8},{"t":2026.20,"s":"Independent","v":7},{"t":2026.35,"s":"Independent","v":8},{"t":2026.46,"s":"Independent","v":7},
      {"t":2017.00,"s":"Bank","v":2},{"t":2017.02,"s":"Bank","v":10},{"t":2017.05,"s":"Bank","v":19},{"t":2017.07,"s":"Bank","v":13},{"t":2017.11,"s":"Bank","v":17},{"t":2017.13,"s":"Bank","v":18},{"t":2017.15,"s":"Bank","v":138},{"t":2017.17,"s":"Bank","v":140},{"t":2017.20,"s":"Bank","v":180},{"t":2017.22,"s":"Bank","v":182},{"t":2017.24,"s":"Bank","v":150},{"t":2017.27,"s":"Bank","v":53},{"t":2017.29,"s":"Bank","v":63},{"t":2017.33,"s":"Bank","v":82},{"t":2017.37,"s":"Bank","v":65},{"t":2017.40,"s":"Bank","v":40},{"t":2017.46,"s":"Bank","v":27},{"t":2017.55,"s":"Bank","v":25},{"t":2017.61,"s":"Bank","v":80},{"t":2017.64,"s":"Bank","v":138},{"t":2017.67,"s":"Bank","v":143},{"t":2017.70,"s":"Bank","v":150},{"t":2017.72,"s":"Bank","v":125},{"t":2017.75,"s":"Bank","v":47},{"t":2017.77,"s":"Bank","v":33},{"t":2017.82,"s":"Bank","v":22},{"t":2017.88,"s":"Bank","v":15},{"t":2017.95,"s":"Bank","v":21},{"t":2018.00,"s":"Bank","v":21},{"t":2018.06,"s":"Bank","v":10},{"t":2018.14,"s":"Bank","v":8},{"t":2018.21,"s":"Bank","v":16},{"t":2018.27,"s":"Bank","v":22},{"t":2018.30,"s":"Bank","v":12},{"t":2018.36,"s":"Bank","v":16},{"t":2018.43,"s":"Bank","v":8},{"t":2018.49,"s":"Bank","v":8},{"t":2018.55,"s":"Bank","v":22},{"t":2018.59,"s":"Bank","v":12},{"t":2018.66,"s":"Bank","v":14},{"t":2018.72,"s":"Bank","v":9},{"t":2018.80,"s":"Bank","v":8},{"t":2018.87,"s":"Bank","v":20},{"t":2018.91,"s":"Bank","v":28},{"t":2018.94,"s":"Bank","v":19},{"t":2019.00,"s":"Bank","v":18},{"t":2019.05,"s":"Bank","v":13},{"t":2019.13,"s":"Bank","v":10},{"t":2019.20,"s":"Bank","v":21},{"t":2019.24,"s":"Bank","v":20},{"t":2019.31,"s":"Bank","v":12},{"t":2019.38,"s":"Bank","v":8},{"t":2019.46,"s":"Bank","v":8},{"t":2019.53,"s":"Bank","v":10},{"t":2019.60,"s":"Bank","v":8},{"t":2019.75,"s":"Bank","v":9},{"t":2019.90,"s":"Bank","v":8},{"t":2019.96,"s":"Bank","v":8},{"t":2020.01,"s":"Bank","v":30},{"t":2020.06,"s":"Bank","v":30},{"t":2020.12,"s":"Bank","v":18},{"t":2020.19,"s":"Bank","v":13},{"t":2020.26,"s":"Bank","v":15},{"t":2020.34,"s":"Bank","v":11},{"t":2020.45,"s":"Bank","v":9},{"t":2020.52,"s":"Bank","v":25},{"t":2020.59,"s":"Bank","v":22},{"t":2020.67,"s":"Bank","v":28},{"t":2020.71,"s":"Bank","v":45},{"t":2020.74,"s":"Bank","v":92},{"t":2020.78,"s":"Bank","v":95},{"t":2020.81,"s":"Bank","v":106},{"t":2020.83,"s":"Bank","v":75},{"t":2020.86,"s":"Bank","v":55},{"t":2020.92,"s":"Bank","v":42},{"t":2020.96,"s":"Bank","v":32},{"t":2021.01,"s":"Bank","v":25},{"t":2021.07,"s":"Bank","v":15},{"t":2021.14,"s":"Bank","v":22},{"t":2021.20,"s":"Bank","v":32},{"t":2021.23,"s":"Bank","v":60},{"t":2021.28,"s":"Bank","v":122},{"t":2021.30,"s":"Bank","v":95},{"t":2021.33,"s":"Bank","v":245},{"t":2021.36,"s":"Bank","v":254},{"t":2021.38,"s":"Bank","v":220},{"t":2021.40,"s":"Bank","v":180},{"t":2021.43,"s":"Bank","v":135},{"t":2021.47,"s":"Bank","v":75},{"t":2021.50,"s":"Bank","v":115},{"t":2021.54,"s":"Bank","v":100},{"t":2021.57,"s":"Bank","v":132},{"t":2021.61,"s":"Bank","v":90},{"t":2021.64,"s":"Bank","v":40},{"t":2021.68,"s":"Bank","v":33},{"t":2021.73,"s":"Bank","v":30},{"t":2021.79,"s":"Bank","v":20},{"t":2021.86,"s":"Bank","v":15},{"t":2021.94,"s":"Bank","v":22},{"t":2022.02,"s":"Bank","v":22},{"t":2022.09,"s":"Bank","v":25},{"t":2022.15,"s":"Bank","v":43},{"t":2022.18,"s":"Bank","v":47},{"t":2022.22,"s":"Bank","v":30},{"t":2022.27,"s":"Bank","v":28},{"t":2022.35,"s":"Bank","v":18},{"t":2022.42,"s":"Bank","v":15},{"t":2022.50,"s":"Bank","v":20},{"t":2022.61,"s":"Bank","v":18},{"t":2022.69,"s":"Bank","v":15},{"t":2022.80,"s":"Bank","v":20},{"t":2022.87,"s":"Bank","v":12},{"t":2022.98,"s":"Bank","v":10},{"t":2023.09,"s":"Bank","v":8},{"t":2023.20,"s":"Bank","v":8},{"t":2023.28,"s":"Bank","v":10},{"t":2023.39,"s":"Bank","v":16},{"t":2023.46,"s":"Bank","v":14},{"t":2023.53,"s":"Bank","v":23},{"t":2023.61,"s":"Bank","v":15},{"t":2023.68,"s":"Bank","v":12},{"t":2023.79,"s":"Bank","v":12},{"t":2023.86,"s":"Bank","v":6},{"t":2023.93,"s":"Bank","v":12},{"t":2024.01,"s":"Bank","v":12},{"t":2024.06,"s":"Bank","v":18},{"t":2024.12,"s":"Bank","v":28},{"t":2024.15,"s":"Bank","v":30},{"t":2024.19,"s":"Bank","v":18},{"t":2024.23,"s":"Bank","v":22},{"t":2024.28,"s":"Bank","v":20},{"t":2024.33,"s":"Bank","v":12},{"t":2024.41,"s":"Bank","v":8},{"t":2024.52,"s":"Bank","v":10},{"t":2024.63,"s":"Bank","v":11},{"t":2024.70,"s":"Bank","v":17},{"t":2024.77,"s":"Bank","v":18},{"t":2024.83,"s":"Bank","v":12},{"t":2024.89,"s":"Bank","v":8},{"t":2024.99,"s":"Bank","v":8},{"t":2025.10,"s":"Bank","v":10},{"t":2025.21,"s":"Bank","v":8},{"t":2025.33,"s":"Bank","v":20},{"t":2025.39,"s":"Bank","v":15},{"t":2025.44,"s":"Bank","v":9},{"t":2025.51,"s":"Bank","v":8},{"t":2025.56,"s":"Bank","v":19},{"t":2025.62,"s":"Bank","v":15},{"t":2025.69,"s":"Bank","v":12},{"t":2025.76,"s":"Bank","v":8},{"t":2025.87,"s":"Bank","v":7},{"t":2025.99,"s":"Bank","v":5},{"t":2026.09,"s":"Bank","v":10},{"t":2026.17,"s":"Bank","v":8},{"t":2026.28,"s":"Bank","v":7},{"t":2026.39,"s":"Bank","v":10},{"t":2026.46,"s":"Bank","v":7}
    ]
  },
  "resolve": {
    "scale": {"x": "independent", "y": "independent", "color": "independent", "strokeDash": "independent", "strokeWidth": "independent"},
    "legend": {"color": "independent", "strokeDash": "independent", "strokeWidth": "independent"}
  },
  "vconcat": [
    {
      "width": 950,
      "height": 562,
      "title": "Aggregate Market Capitalisation",
      "data": {"name": "mcap"},
      "mark": {"type": "line", "strokeJoin": "round"},
      "encoding": {
        "x": {"field": "t", "type": "quantitative", "scale": {"domain": [2016.525, 2026.924], "nice": false, "zero": false},
              "axis": {"values": [2017, 2018, 2019, 2020, 2021, 2022, 2023, 2024, 2025, 2026], "format": "d", "title": null}},
        "y": {"field": "v", "type": "quantitative", "scale": {"domain": [-1.04, 20.92], "nice": false, "zero": false},
              "axis": {"values": [0, 2.5, 5, 7.5, 10, 12.5, 15, 17.5, 20], "format": ".1f", "title": "SAR bn"}},
        "color": {"field": "s", "type": "nominal", "title": null,
                  "scale": {"domain": ["Bank", "Independent", "Sector total"], "range": ["#1c5fe5", "#e8870e", "#333333"]},
                  "legend": {"orient": "top-right"}},
        "strokeDash": {"field": "s", "type": "nominal", "title": null,
                       "scale": {"domain": ["Bank", "Independent", "Sector total"], "range": [[1, 0], [1, 0], [7, 4]]},
                       "legend": {"orient": "top-right"}},
        "strokeWidth": {"field": "s", "type": "nominal", "title": null,
                        "scale": {"domain": ["Bank", "Independent", "Sector total"], "range": [3, 3, 2]},
                        "legend": {"orient": "top-right"}}
      }
    },
    {
      "width": 950,
      "height": 562,
      "title": "Equal-weighted total-return-free price index (rebased=100)",
      "layer": [
        {
          "data": {"values": [{"ref": 100}]},
          "mark": {"type": "rule", "color": "#555555", "strokeDash": [2, 3], "strokeWidth": 1.3},
          "encoding": {"y": {"field": "ref", "type": "quantitative"}}
        },
        {
          "data": {"name": "idx"},
          "mark": {"type": "line", "strokeWidth": 3, "strokeJoin": "round"},
          "encoding": {
            "x": {"field": "t", "type": "quantitative", "scale": {"domain": [2016.525, 2026.924], "nice": false, "zero": false},
                  "axis": {"values": [2017, 2018, 2019, 2020, 2021, 2022, 2023, 2024, 2025, 2026], "format": "d", "title": null}},
            "y": {"field": "v", "type": "quantitative", "scale": {"domain": [45.3, 142.9], "nice": false, "zero": false},
                  "axis": {"values": [60, 80, 100, 120, 140], "format": "d", "title": "Index"}},
            "color": {"field": "s", "type": "nominal", "title": null,
                      "scale": {"domain": ["Bank", "Independent"], "range": ["#1c5fe5", "#e8870e"]},
                      "legend": {"orient": "top-right"}}
          }
        }
      ]
    },
    {
      "width": 950,
      "height": 562,
      "title": "Average Leverage (net debt/TEV)",
      "data": {"name": "lev"},
      "mark": {"type": "line", "strokeWidth": 3, "strokeJoin": "round"},
      "encoding": {
        "x": {"field": "t", "type": "quantitative", "scale": {"domain": [2016.525, 2026.924], "nice": false, "zero": false},
              "axis": {"values": [2017, 2018, 2019, 2020, 2021, 2022, 2023, 2024, 2025, 2026], "format": "d", "title": null}},
        "y": {"field": "v", "type": "quantitative", "scale": {"domain": [-143.8, 55.6], "nice": false, "zero": false},
              "axis": {"values": [-125, -100, -75, -50, -25, 0, 25, 50], "title": "%",
                       "labelExpr": "datum.value <= -100 ? '' + abs(datum.value) : (datum.value < 0 ? '-' + abs(datum.value) : '' + datum.value)"}},
        "color": {"field": "s", "type": "nominal", "title": null,
                  "scale": {"domain": ["Bank", "Independent"], "range": ["#1c5fe5", "#e8870e"]},
                  "legend": {"orient": "top-left"}}
      }
    },
    {
      "width": 950,
      "height": 562,
      "title": "Traded Value, 21-day MA (liquidity)",
      "data": {"name": "tv"},
      "mark": {"type": "line", "strokeWidth": 2.4, "strokeJoin": "round"},
      "encoding": {
        "x": {"field": "t", "type": "quantitative", "scale": {"domain": [2016.525, 2026.924], "nice": false, "zero": false},
              "axis": {"values": [2017, 2018, 2019, 2020, 2021, 2022, 2023, 2024, 2025, 2026], "format": "d", "title": null}},
        "y": {"field": "v", "type": "quantitative", "scale": {"domain": [-12.2, 266.6], "nice": false, "zero": false},
              "axis": {"values": [0, 50, 100, 150, 200, 250], "format": "d", "title": "SAR m / day"}},
        "color": {"field": "s", "type": "nominal", "title": null,
                  "scale": {"domain": ["Bank", "Independent"], "range": ["#1c5fe5", "#e8870e"]},
                  "legend": {"orient": "top-right"}}
      }
    },
    {
      "width": 1017,
      "height": 2,
      "view": {"stroke": null},
      "data": {"values": [
        {"k": "source", "label": "Source: Argaam Intelligence Research"},
        {"k": "brand", "label": "argaam"}
      ]},
      "encoding": {
        "x": {"field": "k", "type": "nominal", "axis": null,
              "scale": {"type": "point", "domain": ["source", "brand"], "padding": 0}}
      },
      "layer": [
        {
          "transform": [{"filter": "datum.k == 'source'"}],
          "mark": {"type": "text", "align": "left", "baseline": "alphabetic", "dx": -122, "dy": -44, "fontSize": 14, "color": "#111111", "font": "Noto Sans"},
          "encoding": {"text": {"field": "label"}}
        },
        {
          "transform": [{"filter": "datum.k == 'brand'"}],
          "mark": {"type": "text", "align": "right", "baseline": "alphabetic", "dy": -34, "fontSize": 42, "fontWeight": "bold", "color": "#f5891f", "font": "Noto Sans"},
          "encoding": {"text": {"field": "label"}}
        }
      ]
    }
  ],
  "config": {
    "font": "Noto Sans",
    "view": {"stroke": "#8a8a8a", "strokeWidth": 1.5},
    "axis": {
      "labelFont": "DejaVu Serif",
      "labelFontSize": 16,
      "labelColor": "#707070",
      "labelPadding": 8,
      "tickColor": "#222222",
      "tickSize": 8,
      "tickWidth": 1.5,
      "domain": true,
      "domainColor": "#333333",
      "domainWidth": 1.5,
      "grid": true,
      "gridColor": "#d9d9e1",
      "gridWidth": 1,
      "titleFont": "Noto Sans",
      "titleFontSize": 14,
      "titleFontWeight": "normal",
      "titleColor": "#444444"
    },
    "axisY": {"titleX": -81},
    "title": {"fontSize": 32, "fontWeight": "normal", "color": "#333333", "font": "Noto Sans", "frame": "group", "anchor": "middle", "offset": 14},
    "legend": {
      "symbolType": "M-1.8,0H1.8",
      "symbolSize": 484,
      "symbolOffset": 9,
      "symbolStrokeWidth": 3,
      "labelFontSize": 19,
      "labelColor": "#333333",
      "labelFont": "Noto Sans",
      "labelOffset": 28,
      "fillColor": "#f9f7f3",
      "strokeColor": "#cccccc",
      "cornerRadius": 4,
      "padding": 7,
      "rowPadding": 3,
      "offset": 9
    }
  }
}
